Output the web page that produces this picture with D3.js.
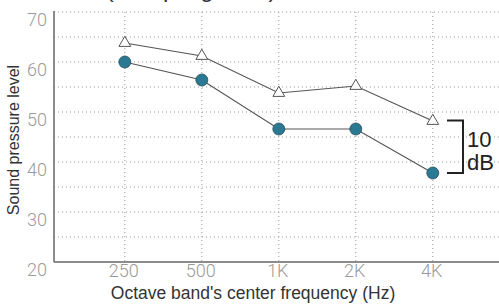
<!DOCTYPE html>
<html>
<head>
<meta charset="utf-8">
<style>
body { margin: 0; background: #fff; }
svg { display: block; font-family: "Helvetica Neue", "Liberation Sans", Arial, sans-serif; }
.grid line { stroke: #999; stroke-width: 1; stroke-dasharray: 1,3; }
.axis-line { stroke: #666; stroke-width: 1.5; }
.tick-label { fill: #9a9a9a; font-family: Roboto, "Liberation Sans", sans-serif; font-weight: 300; }
.series { fill: none; stroke: #555; stroke-width: 1.2; }
</style>
</head>
<body>
<div class="chart"></div>
<script src="https://d3js.org/d3.v7.min.js"></script>
<script>
// data
var bands = ["250", "500", "1K", "2K", "4K"];
var upperLevels = [63.8, 61.2, 53.8, 55.2, 48.2];   // triangles
var lowerLevels = [60.0, 56.4, 46.6, 46.6, 37.8];   // circles
var yTicks = [20, 30, 40, 50, 60, 70];
var yGrid = [25, 30, 35, 40, 45, 50, 55, 60, 65, 70];
var bracketRange = [48.3, 37.8];

var W = 499, H = 305;
var plot = {left: 54, right: 499, top: 12, bottom: 262};

var svg = d3.select(".chart").append("svg")
    .attr("width", W)
    .attr("height", H);

var x = d3.scaleLinear()
    .domain([-0.92, 4.86])
    .range([plot.left, plot.right]);

var y = d3.scaleLinear()
    .domain([20, 70])
    .range([plot.bottom, plot.top]);

// title sits above the frame, only its descenders show
svg.append("text")
    .attr("x", 191)
    .attr("y", -3)
    .attr("text-anchor", "middle")
    .attr("font-size", 24)
    .attr("fill", "#333")
    .text("(Sampling area)");

// grid
var grid = svg.append("g").attr("class", "grid");
grid.selectAll(".hg")
    .data(yGrid)
  .enter().append("line")
    .attr("x1", plot.left)
    .attr("x2", plot.right)
    .attr("y1", function(d){ return y(d); })
    .attr("y2", function(d){ return y(d); });
grid.selectAll(".vg")
    .data(bands)
  .enter().append("line")
    .attr("x1", function(d, i){ return x(i); })
    .attr("x2", function(d, i){ return x(i); })
    .attr("y1", plot.top)
    .attr("y2", plot.bottom);

// axes
svg.append("line").attr("class", "axis-line")
    .attr("x1", plot.left).attr("x2", plot.left)
    .attr("y1", plot.top - 1).attr("y2", plot.bottom);
svg.append("line").attr("class", "axis-line")
    .attr("x1", plot.left).attr("x2", plot.right)
    .attr("y1", plot.bottom).attr("y2", plot.bottom);

// y tick labels hang just below their grid line
svg.selectAll(".ytl")
    .data(yTicks)
  .enter().append("text")
    .attr("class", "tick-label")
    .attr("x", 47)
    .attr("y", function(d){ return y(d) + 14; })
    .attr("text-anchor", "end")
    .attr("font-size", 18)
    .text(function(d){ return d; });

svg.selectAll(".xtl")
    .data(bands)
  .enter().append("text")
    .attr("class", "tick-label")
    .attr("x", function(d, i){ return x(i) - 1; })
    .attr("y", 277)
    .attr("text-anchor", "middle")
    .attr("font-size", 18)
    .text(function(d){ return d; });

svg.append("text")
    .attr("x", 253)
    .attr("y", 299)
    .attr("text-anchor", "middle")
    .attr("font-size", 17.5)
    .attr("fill", "#333")
    .text("Octave band's center frequency (Hz)");

svg.append("text")
    .attr("transform", "translate(19,140) rotate(-90)")
    .attr("text-anchor", "middle")
    .attr("font-size", 16)
    .attr("fill", "#333")
    .text("Sound pressure level");

// series lines
var line = d3.line()
    .x(function(d, i){ return x(i); })
    .y(function(d){ return y(d); });

svg.append("path").attr("class", "series").attr("d", line(upperLevels));
svg.append("path").attr("class", "series").attr("d", line(lowerLevels));

// markers
svg.selectAll(".tri")
    .data(upperLevels)
  .enter().append("path")
    .attr("transform", function(d, i){ return "translate(" + x(i) + "," + y(d) + ")"; })
    .attr("d", d3.symbol().type(d3.symbolTriangle).size(60))
    .attr("fill", "#fff")
    .attr("stroke", "#555")
    .attr("stroke-width", 1);

svg.selectAll(".dot")
    .data(lowerLevels)
  .enter().append("circle")
    .attr("cx", function(d, i){ return x(i); })
    .attr("cy", function(d){ return y(d); })
    .attr("r", 6)
    .attr("fill", "#2b7893")
    .attr("stroke", "#2a4f5e")
    .attr("stroke-width", 0.8);

// 10 dB bracket
var bx = 463;
svg.append("path")
    .attr("d", "M" + (bx - 16) + "," + y(bracketRange[0]) +
               "H" + bx + "V" + y(bracketRange[1]) + "H" + (bx - 16))
    .attr("fill", "none")
    .attr("stroke", "#222")
    .attr("stroke-width", 2);

svg.append("text")
    .attr("x", 467)
    .attr("y", 147)
    .attr("font-size", 22)
    .attr("fill", "#222")
    .text("10");
svg.append("text")
    .attr("x", 467)
    .attr("y", 170)
    .attr("font-size", 22)
    .attr("fill", "#222")
    .text("dB");
</script>
</body>
</html>
